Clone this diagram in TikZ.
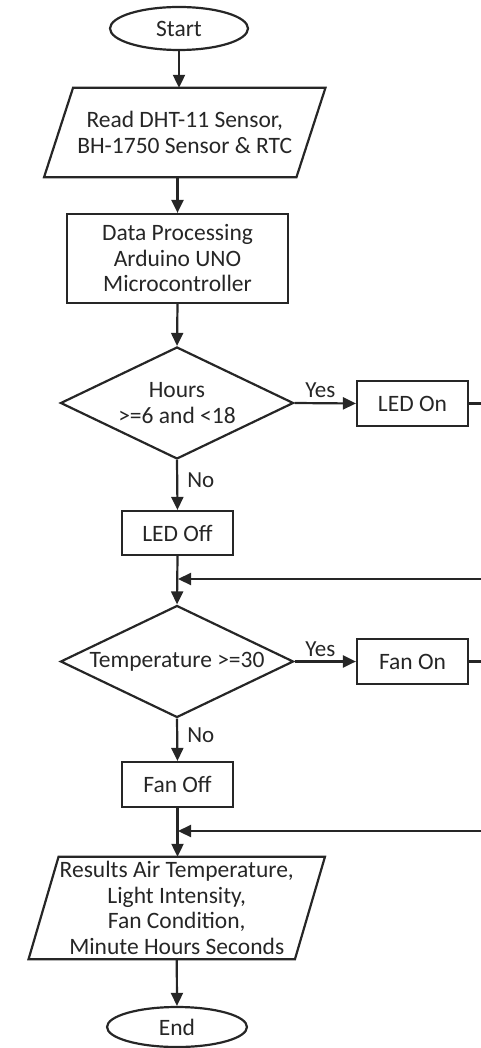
\documentclass[tikz,border=0pt]{standalone}
\usepackage{fontspec}
\setmainfont{Carlito}
\usetikzlibrary{shapes.geometric,arrows.meta}
\definecolor{ink}{gray}{0.15}
\begin{document}
\begin{tikzpicture}[x=1pt,y=-1pt,
  every node/.style={font=\fontsize{23.5}{25.5}\selectfont, text=ink, inner sep=0pt, align=center},
  line/.style={draw=ink, line width=2.2pt},
  arr/.style={line, -{Triangle[length=13pt,width=12pt]}},
  term/.style={ellipse, line},
  proc/.style={rectangle, line},
  iobox/.style={rectangle},
  dec/.style={diamond, line, aspect=2},
  lbl/.style={font=\fontsize{23}{25}\selectfont}
]
\useasboundingbox (0,0) rectangle (481,1048);
% nodes
\node[term, minimum width=138pt, minimum height=43pt] (start) at (179,28.5) {Start};
\node[iobox, minimum width=252pt, minimum height=89pt] (read) at (184.75,132.5) {Read DHT-11 Sensor,\\BH-1750 Sensor \& RTC};
\draw[line] ([xshift=14.5pt]read.north west) -- ([xshift=14.5pt]read.north east)
  -- ([xshift=-14.5pt]read.south east) -- ([xshift=-14.5pt]read.south west) -- cycle;
\node[proc, minimum width=221pt, minimum height=89pt] (data) at (177.5,258.5) {Data Processing\\Arduino UNO\\Microcontroller};
\node[dec, minimum width=233pt, minimum height=112pt] (d1) at (177,403) {Hours\\>=6 and <18};
\node[proc, minimum width=111pt, minimum height=45pt] (ledon) at (412.5,403.5) {LED On};
\node[proc, minimum width=111pt, minimum height=44pt] (ledoff) at (177.5,533) {LED Off};
\coordinate (j1) at (177,579);
\node[dec, minimum width=233pt, minimum height=112pt] (d2) at (177,661.5) {Temperature >=30};
\node[proc, minimum width=111pt, minimum height=45pt] (fanon) at (412.5,661.5) {Fan On};
\node[proc, minimum width=111pt, minimum height=45pt] (fanoff) at (177.5,784.5) {Fan Off};
\coordinate (j2) at (177,831);
\node[iobox, minimum width=266pt, minimum height=102pt] (res) at (176.75,908) {Results Air Temperature,\\Light Intensity,\\Fan Condition,\\Minute Hours Seconds};
\draw[line] ([xshift=15pt]res.north west) -- ([xshift=15pt]res.north east)
  -- ([xshift=-15pt]res.south east) -- ([xshift=-15pt]res.south west) -- cycle;
\node[term, minimum width=140pt, minimum height=40pt] (end) at (177,1027) {End};
\coordinate (r1a) at (481,403.5);
\coordinate (r1b) at (481,579);
\coordinate (r2a) at (481,661.5);
\coordinate (r2b) at (481,831);
% connectors
\draw[arr] (start.south) -- (start.south |- read.north);
\draw[arr] (data.north |- read.south) -- (data.north);
\draw[arr] (data.south) -- (d1.north);
\draw[arr] (d1.east) -- node[lbl, above=4pt, pos=0.42] {Yes} (ledon.west);
\draw[arr] (d1.south) -- node[lbl, right=9pt, pos=0.4] {No} (ledoff.north);
\draw[arr] (ledoff.south) -- (d2.north);
\draw[line] (ledon.east) -- (r1a);
\draw[arr] (r1b) -- ([xshift=1pt]j1);
\draw[arr] (d2.east) -- node[lbl, above=4pt, pos=0.42] {Yes} (fanon.west);
\draw[arr] (d2.south) -- node[lbl, right=9pt, pos=0.4] {No} (fanoff.north);
\draw[arr] (fanoff.south) -- (fanoff.south |- res.north);
\draw[line] (fanon.east) -- (r2a);
\draw[arr] (r2b) -- ([xshift=1pt]j2);
\draw[arr] (res.south) -- (end.north);
\end{tikzpicture}
\end{document}
